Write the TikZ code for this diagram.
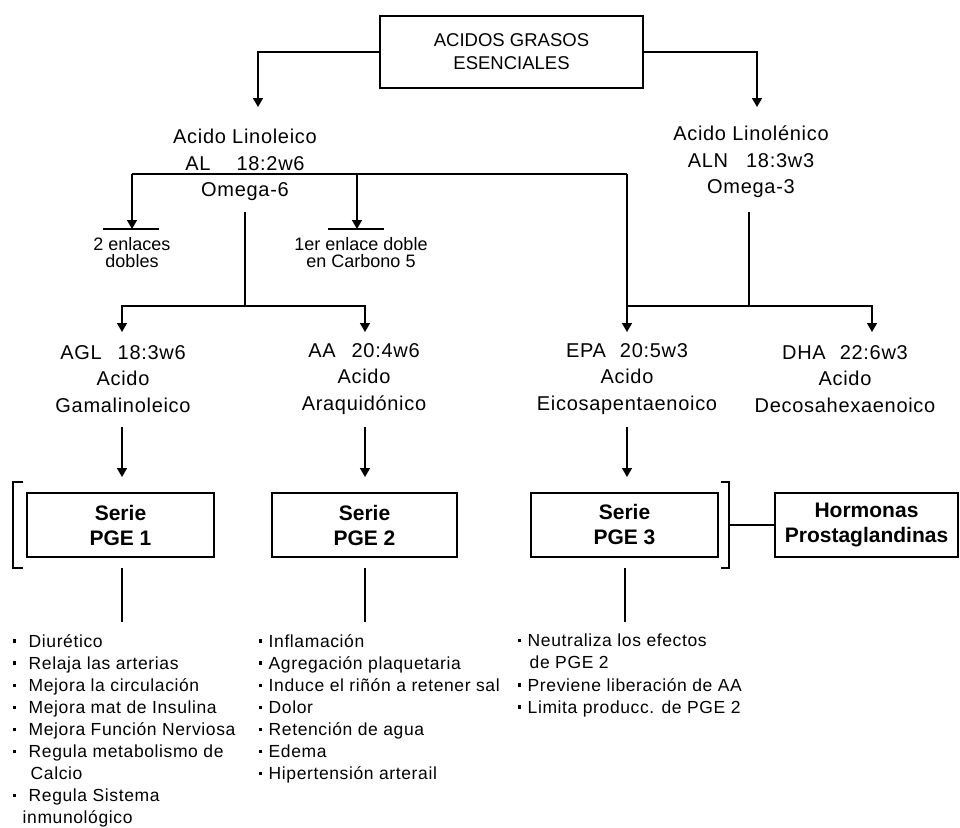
\documentclass[tikz,border=0pt]{standalone}
\usepackage{fontspec}
\setmainfont{Liberation Sans}
\newfontfamily\widefont{Liberation Sans}[LetterSpace=3.5]
\usetikzlibrary{arrows.meta}

% small square bullet followed by a fixed gap
\newcommand{\sqbul}[1]{\makebox[#1][l]{\rule[4.5pt]{3.2pt}{3.2pt}}}

\begin{document}
\begin{tikzpicture}[x=1pt,y=-1pt,
  line width=1.4pt,
  arr/.style={-{Triangle[width=10pt,length=9pt]}},
  lbl/.style={align=center,inner sep=0pt,font=\widefont\fontsize{20}{26.5}\selectfont},
  tlbl/.style={align=center,inner sep=0pt,font=\fontsize{18}{17.5}\selectfont},
  seriebox/.style={draw,line width=1.4pt,align=center,inner sep=0pt,
    minimum height=64pt,font=\fontsize{21}{25}\selectfont\bfseries},
  lst/.style={align=left,anchor=north west,inner sep=0pt,font=\widefont\fontsize{17.5}{22.1}\selectfont},
]
\useasboundingbox (0,0) rectangle (960,827);

% ---- title
\node[draw,line width=1.4pt,minimum width=263pt,minimum height=72pt,inner sep=0pt,
      align=center,font=\fontsize{18.5}{23}\selectfont] (title) at (511.5,52)
      {ACIDOS GRASOS\\ESENCIALES};

% ---- first level
\node[lbl] (al)  at (245,165) {Acido Linoleico\\AL\hspace{26pt}18:2w6\\Omega-6};
\node[lbl] (aln) at (751,162) {Acido Linolénico\\ALN\hspace{18pt}18:3w3\\Omega-3};

\node[tlbl] (dobles) at (132,252.5) {2 enlaces\\dobles};
\node[tlbl] (carb5)  at (361,252.5) {1er enlace doble\\en Carbono 5};

% ---- second level
\node[lbl] (agl) at (123,379) {AGL\hspace{16pt}18:3w6\\Acido\\Gamalinoleico};
\node[lbl] (aa)  at (364,379) {AA\hspace{16pt}20:4w6\\Acido\\Araquidónico};
\node[lbl] (epa) at (627,379) {EPA\hspace{14pt}20:5w3\\Acido\\Eicosapentaenoico};
\node[lbl] (dha) at (845,379) {DHA\hspace{14pt}22:6w3\\Acido\\Decosahexaenoico};

% ---- prostaglandin series
\node[seriebox,minimum width=187pt] (pge1) at (120.5,525) {Serie\\PGE 1};
\node[seriebox,minimum width=185pt] (pge2) at (364.5,525) {Serie\\PGE 2};
\node[seriebox,minimum width=187pt] (pge3) at (624.5,525) {Serie\\PGE 3};
\node[seriebox,minimum width=183pt] (horm) at (866.5,525) {Hormonas\\Prostaglandinas};

% ---- effects
\node[lst] (fx1) at (12,633.5) {%
  \sqbul{16pt}Diurético\\
  \sqbul{16pt}Relaja las arterias\\
  \sqbul{16pt}Mejora la circulación\\
  \sqbul{16pt}Mejora mat de Insulina\\
  \sqbul{16pt}Mejora Función Nerviosa\\
  \sqbul{16pt}Regula metabolismo de\\
  \hspace*{18pt}Calcio\\
  \sqbul{16pt}Regula Sistema\\
  \hspace*{10pt}inmunológico};
\node[lst] (fx2) at (258,633.5) {%
  \sqbul{10pt}Inflamación\\
  \sqbul{10pt}Agregación plaquetaria\\
  \sqbul{10pt}Induce el riñón a retener sal\\
  \sqbul{10pt}Dolor\\
  \sqbul{10pt}Retención de agua\\
  \sqbul{10pt}Edema\\
  \sqbul{10pt}Hipertensión arterail};
\node[lst] (fx3) at (517,633.5) {%
  \sqbul{10pt}Neutraliza los efectos\\
  \hspace*{12pt}de PGE 2\\
  \sqbul{10pt}Previene liberación de AA\\
  \sqbul{10pt}Limita producc. de PGE 2};

% ---- junction points
\coordinate (alin)  at (258,107);
\coordinate (alnin) at (757,107);
\coordinate (hL) at (132,174);
\coordinate (hM) at (357,174);
\coordinate (hR) at (627,174);
\coordinate (tb1) at (132,229);
\coordinate (tb2) at (357,229);
\coordinate (o6) at (245,212);
\coordinate (j6) at (245,306);
\coordinate (o3) at (749,212);
\coordinate (j3) at (749,306);
\coordinate (jE) at (627,306);
\coordinate (aglin) at (122,332);
\coordinate (aain)  at (365,332);
\coordinate (epain) at (627,332);
\coordinate (dhain) at (872,332);
\coordinate (aglout) at (122,427);
\coordinate (aaout)  at (365,427);
\coordinate (epaout) at (627,427);
\coordinate (pge1in) at (122,477);
\coordinate (pge2in) at (365,477);
\coordinate (pge3in) at (627,477);
\coordinate (pge1out) at (122,568);
\coordinate (pge2out) at (365,568);
\coordinate (pge3out) at (625,568);
\coordinate (fx1in) at (122,622);
\coordinate (fx2in) at (365,622);
\coordinate (fx3in) at (625,622);
\coordinate (brR) at (729,525);

% ---- connectors
\draw[arr] (title.west) -| (alin);
\draw[arr] (title.east) -| (alnin);

\draw (hL) -- (hR);
\draw[arr] (hL) -- (tb1);
\draw[arr] (hM) -- (tb2);
\draw ([xshift=-29pt]tb1) -- ([xshift=27pt]tb1);
\draw ([xshift=-29pt]tb2) -- ([xshift=27pt]tb2);

\draw (o6) -- (j6);
\draw[arr] (j6) -| (aglin);
\draw[arr] (j6) -| (aain);

\draw (o3) -- (j3);
\draw (j3) -- (jE);
\draw[arr] (j3) -| (dhain);
\draw[arr] (hR) -- (epain);

\draw[arr] (aglout) -- (pge1in);
\draw[arr] (aaout) -- (pge2in);
\draw[arr] (epaout) -- (pge3in);

\draw (pge1out) -- (fx1in);
\draw (pge2out) -- (fx2in);
\draw (pge3out) -- (fx3in);

% ---- brackets grouping the series
\draw (23,482) -- (13,482) -- (13,568) -- (23,568);
\draw (721,482) -- (729,482) -- (729,568) -- (721,568);
\draw (brR) -- (horm.west);
\end{tikzpicture}
\end{document}
